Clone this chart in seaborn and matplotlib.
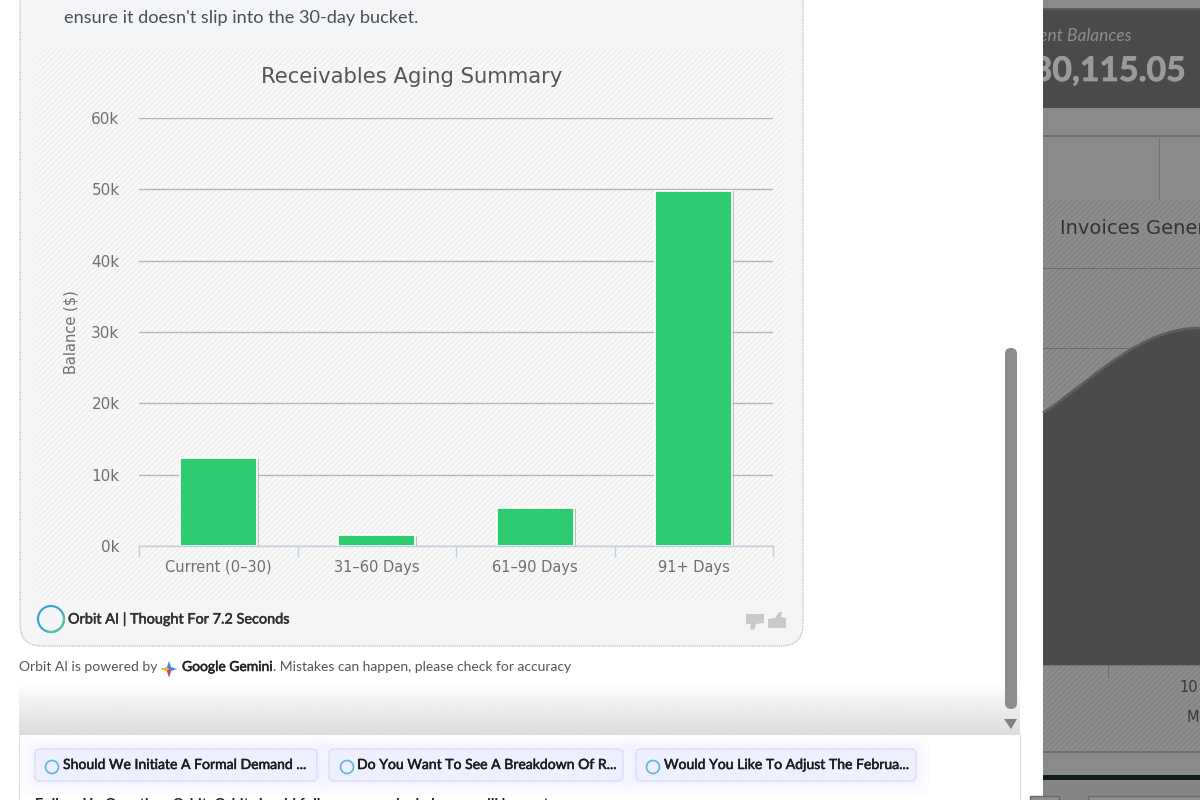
import numpy as np
import pandas as pd
import matplotlib
matplotlib.use("Agg")
import matplotlib.pyplot as plt
import matplotlib.patheffects as pe
import seaborn as sns
from matplotlib.patches import Rectangle, FancyBboxPatch, Circle, Polygon, Arc, PathPatch
from matplotlib.path import Path

# chart values
categories = ["Current (0–30)", "31–60 Days", "61–90 Days", "91+ Days"]
balances = [12300, 1500, 5300, 49800]
y_ticks = [0, 10000, 20000, 30000, 40000, 50000, 60000]
y_tick_labels = ["0k", "10k", "20k", "30k", "40k", "50k", "60k"]

GREEN = "#2ecc71"
CARD = "#f4f5f7"
AXIS_TEXT = "#6f6f6f"
TEXT_FONT = ["Lato", "DejaVu Sans"]
CHART_FONT = ["DejaVu Sans"]

W, H = 1200, 800

sns.set_theme(style="white")
plt.rcParams["font.family"] = ["DejaVu Sans"]
plt.rcParams["hatch.linewidth"] = 0.3

fig = plt.figure(figsize=(12, 8), dpi=100, facecolor="white")

# page drawn in pixel coordinates behind the chart
bg = fig.add_axes([0, 0, 1, 1], zorder=0)
bg.set_xlim(0, W)
bg.set_ylim(H, 0)
bg.axis("off")


def box(ax, x0, y0, x1, y1, color, **kw):
    ax.add_patch(Rectangle((x0, y0), x1 - x0, y1 - y0, facecolor=color,
                           edgecolor="none", **kw))


def heavy(color, width=0.35):
    # Lato has no medium weight here, a thin stroke gets close
    return [pe.withStroke(linewidth=width, foreground=color)]


# dimmed dashboard on the right
box(bg, 1043, 0, 1200, 800, "#8a8a8a", zorder=1)
box(bg, 1043, 8, 1200, 10, "#5c5c5c", zorder=2)
box(bg, 1043, 10, 1200, 108, "#4a4a4a", zorder=2)
box(bg, 1043, 135, 1200, 137, "#6e6e6e", zorder=2)
box(bg, 1159, 138, 1160, 200, "#747474", zorder=2)
bg.add_patch(Rectangle((1043, 200), 157, 552, facecolor="#8c8c8c",
                       edgecolor="#727272", hatch="//////", linewidth=0, zorder=2))
box(bg, 1043, 268, 1200, 269, "#6c6c6c", zorder=3)
box(bg, 1043, 348, 1200, 349, "#6c6c6c", zorder=3)
curve_verts = [(1043, 413), (1095, 378), (1140, 328), (1200, 328)]
curve_codes = [Path.MOVETO, Path.CURVE4, Path.CURVE4, Path.CURVE4]
area = Path(curve_verts + [(1200, 665), (1043, 665), (1043, 413)],
            curve_codes + [Path.LINETO, Path.LINETO, Path.LINETO])
bg.add_patch(PathPatch(area, facecolor="#4b4b4b", edgecolor="none", zorder=4))
bg.add_patch(PathPatch(Path(curve_verts, curve_codes), facecolor="none",
                       edgecolor="#5e5e5e", linewidth=2, zorder=4))
box(bg, 1043, 665, 1200, 666, "#6f7680", zorder=5)
box(bg, 1108, 666, 1109, 678, "#66707c", zorder=5)
box(bg, 1043, 751, 1200, 753, "#6e6e6e", zorder=3)
box(bg, 1043, 753, 1200, 775, "#8a8a8a", zorder=3)
box(bg, 1043, 775, 1200, 780, "#101c1c", zorder=3)
box(bg, 1043, 780, 1200, 800, "#858585", zorder=3)
bg.add_patch(Rectangle((1088, 796), 120, 10, facecolor="#8f8f8f",
                       edgecolor="#6a6a6a", linewidth=1, zorder=4))
bg.add_patch(Rectangle((1030, 796), 29, 10, facecolor="#8f8f8f",
                       edgecolor="#6a6a6a", linewidth=1, zorder=4))
clip_right = Rectangle((1043, 0), 157, 800, transform=bg.transData)
t = bg.text(1132, 36, "Current Balances", ha="right", va="center", fontsize=12.5,
            style="italic", color="#8e8e8e", family=TEXT_FONT, zorder=6, clip_on=True)
t.set_clip_path(clip_right)
t = bg.text(1186, 70, "$230,115.05", ha="right", va="center", fontsize=24.3,
            weight="bold", color="#9a9a9a", family=TEXT_FONT, zorder=6, clip_on=True,
            path_effects=heavy("#9a9a9a", 0.6))
t.set_clip_path(clip_right)
bg.text(1060, 228, "Invoices Generated", ha="left", va="center", fontsize=14,
        color="#333333", family=CHART_FONT, zorder=6, clip_on=True)
bg.text(1179, 687, "10", ha="left", va="center", fontsize=10.5, color="#3a3a3a", zorder=6)
bg.text(1187, 717, "M", ha="left", va="center", fontsize=10.5, color="#3a3a3a", zorder=6)

# white page column
box(bg, 0, 0, 1043, 800, "white", zorder=1)

# message card
bg.add_patch(FancyBboxPatch((20, -60), 783, 706, boxstyle="round,pad=0,rounding_size=22",
                            facecolor=CARD, edgecolor="#ababab", linewidth=0.8,
                            linestyle=(0, (1, 1)), zorder=2))
bg.add_patch(Rectangle((36, 50), 750, 550, facecolor="#f8f8f8", edgecolor="#dcdcdc",
                       hatch="//////", linewidth=0, zorder=3))
bg.text(64, 17.5, "ensure it doesn't slip into the 30-day bucket.", ha="left", va="center",
        fontsize=13.1, color="#4a4f55", family=TEXT_FONT, zorder=6)

# status row under the chart
bg.add_patch(Circle((51, 619), 13, facecolor="none", edgecolor="#3aa0d0", linewidth=1.5, zorder=6))
bg.add_patch(Arc((51, 619), 26, 26, theta1=-20, theta2=110, edgecolor="#55c2a0",
                 linewidth=1.5, zorder=7))
bg.text(68, 619, "Orbit AI | Thought For 7.2 Seconds", ha="left", va="center",
        fontsize=10.4, color="#2e2e2e", family=TEXT_FONT, zorder=6,
        path_effects=heavy("#2e2e2e"))
# thumbs icons
for pts in ([(746, 614), (764, 614), (764, 623), (756, 624), (754, 630), (750, 629),
             (751, 624), (746, 624)],
            [(768, 619), (775, 618), (779, 612), (782, 612), (781, 617), (786, 618),
             (786, 628), (768, 628)]):
    bg.add_patch(Polygon(pts, closed=True, facecolor="#c9c9c9", edgecolor="none", zorder=6))

# footer note
bg.text(19, 667, "Orbit AI is powered by", ha="left", va="center", fontsize=10,
        color="#555555", family=TEXT_FONT, zorder=6)
bg.add_patch(Polygon([(169, 661), (171, 667), (177, 669), (171, 671), (169, 677),
                      (167, 671), (161, 669), (167, 667)], closed=True,
                     facecolor="#4285f4", edgecolor="none", zorder=6))
bg.add_patch(Polygon([(169, 669), (171, 671), (169, 677), (167, 671)], closed=True,
                     facecolor="#ea4335", edgecolor="none", zorder=7))
bg.add_patch(Polygon([(161, 669), (167, 667), (169, 669), (167, 671)], closed=True,
                     facecolor="#fbbc04", edgecolor="none", zorder=7))
bg.text(182, 667, "Google Gemini", ha="left", va="center", fontsize=10,
        color="#222222", family=TEXT_FONT, zorder=6, path_effects=heavy("#222222"))
bg.text(273, 667, ". Mistakes can happen, please check for accuracy", ha="left", va="center",
        fontsize=10, color="#555555", family=TEXT_FONT, zorder=6)

# fade band and lower panel
c = np.linspace(1.0, 0.86, 64).reshape(-1, 1)
bg.imshow(c, extent=(19, 1020, 735, 682), cmap="gray", vmin=0, vmax=1,
          aspect="auto", zorder=3)
bg.set_xlim(0, W)
bg.set_ylim(H, 0)
box(bg, 19, 735, 20, 800, "#dddddd", zorder=4)
box(bg, 1020, 735, 1021, 800, "#dddddd", zorder=4)

# scrollbar
bg.add_patch(FancyBboxPatch((1005, 348), 12, 361, boxstyle="round,pad=0,rounding_size=6",
                            facecolor="#8c8c8c", edgecolor="none", zorder=6))
bg.add_patch(Polygon([(1004, 719), (1017, 719), (1011, 729)], closed=True,
                     facecolor="#808080", edgecolor="none", zorder=6))

# follow up buttons
buttons = [(35, 317, 52, 63, "Should We Initiate A Formal Demand ..."),
           (329, 623, 347, 357, "Do You Want To See A Breakdown Of R..."),
           (636, 916, 653, 664, "Would You Like To Adjust The Februa...")]
for x0, x1, cx, tx, label in buttons:
    for grow in (14, 10, 6, 3):
        bg.add_patch(FancyBboxPatch((x0 - grow, 749 - grow), x1 - x0 + 2 * grow, 32 + 2 * grow,
                                    boxstyle="round,pad=0,rounding_size=12",
                                    facecolor="#e4e8ff", edgecolor="none", alpha=0.1, zorder=4))
    bg.add_patch(FancyBboxPatch((x0, 749), x1 - x0, 32, boxstyle="round,pad=0,rounding_size=5",
                                facecolor="#eef0ff", edgecolor="#bcc2f2", linewidth=0.8,
                                linestyle=(0, (1, 1)), zorder=5))
    bg.add_patch(Circle((cx, 767), 6.5, facecolor="none", edgecolor="#62b4d8",
                        linewidth=1.2, zorder=6))
    bg.text(tx, 765, label, ha="left", va="center", fontsize=10.1, color="#1c1c1c",
            family=TEXT_FONT, zorder=6, path_effects=heavy("#1c1c1c"))

# text cut off by the bottom edge
bg.text(35, 805, "Follow Up Question: Orbit: Orbit should follow up on why balances will be past",
        ha="left", va="center", fontsize=10.5, color="#222222", weight="bold",
        family=TEXT_FONT, zorder=6, clip_on=True)

# the chart itself
ax = fig.add_axes([139 / W, 1 - 546 / H, 634 / W, 428 / H], zorder=2)
ax.patch.set_alpha(0)
data = pd.DataFrame({"bucket": categories, "balance": balances})
sns.barplot(data=data, x="bucket", y="balance", color=GREEN, width=0.485, saturation=1,
            edgecolor="white", linewidth=1.2, ax=ax, zorder=3)
for bar in ax.patches:
    bar.set_path_effects([pe.SimplePatchShadow(offset=(1.6, -0.5), shadow_rgbFace="#8a8a8a",
                                               alpha=0.5), pe.Normal()])

ax.set_xlim(-0.5, 3.5)
ax.set_ylim(0, 60000)
ax.set_yticks(y_ticks)
ax.set_yticklabels(y_tick_labels, fontsize=11, color=AXIS_TEXT)
ax.yaxis.grid(True, color="#b5b5b5", linewidth=1)
ax.set_axisbelow(True)
ax.tick_params(axis="y", length=0, pad=14)
ax.set_xticks(range(len(categories)))
ax.set_xticklabels(categories, fontsize=10.5, color=AXIS_TEXT)
ax.tick_params(axis="x", length=0, pad=10)
# category boundary ticks, like the band scale of the original
ax.set_xticks(np.arange(-0.5, len(categories) + 0.5), minor=True)
ax.tick_params(axis="x", which="minor", bottom=True, length=8, width=1, color="#c0d0e0",
               direction="out")
ax.set_xlabel("")
ax.set_ylabel("Balance ($)", fontsize=10.5, color=AXIS_TEXT, labelpad=9)
# title sits over the card centre, not the axes centre
ax.set_title("Receivables Aging Summary", fontsize=15.2, color="#555555", pad=25,
             x=(412 - 139) / 634)
for side in ["top", "right", "left"]:
    ax.spines[side].set_visible(False)
ax.spines["bottom"].set_color("#c0d0e0")
ax.spines["bottom"].set_linewidth(1)
ax.spines["bottom"].set_zorder(4)

fig.savefig("out.png", dpi=100, facecolor="white")
